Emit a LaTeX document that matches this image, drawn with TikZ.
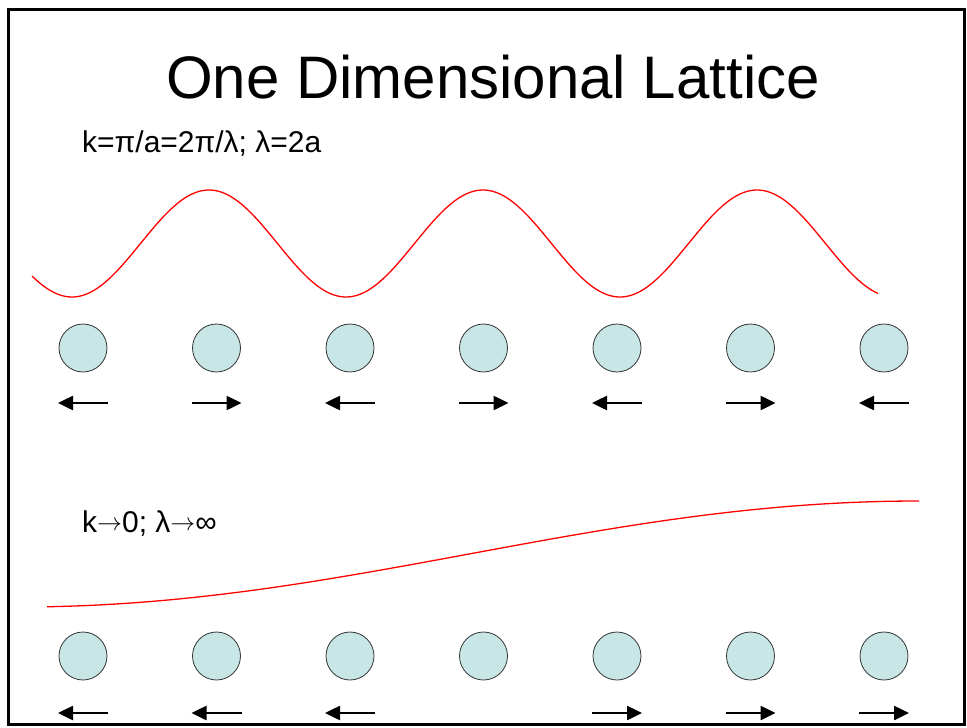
\documentclass[tikz,border=0pt]{standalone}
\usepackage{fontspec}
\setmainfont{Liberation Sans}
\usetikzlibrary{arrows.meta,calc}
\definecolor{atomfill}{RGB}{200,230,230}
\newcommand{\longto}{\raisebox{1.5pt}{$\rightarrow$}}
\tikzset{
	atom/.style={circle, draw=black!80, line width=0.8pt, fill=atomfill, minimum size=48pt, inner sep=0pt},
	disp/.style={line width=2.5pt, -{Triangle[length=15pt, width=14pt]}},
	wave/.style={red, line width=1.3pt, samples=300}
}
\begin{document}
\begin{tikzpicture}[x=1pt, y=-1pt]
		\useasboundingbox (0, 0) rectangle (967, 728);
		% Frame
		\draw[line width=2.5pt] (8.5, 9.5) rectangle (964.5, 724.5);
		
		% Title and labels
		\node[anchor=base, font=\fontsize{60}{72}\selectfont] (title) at (493, 98) {One Dimensional Lattice};
		\node[anchor=base west, inner sep=0pt, font=\fontsize{30}{36}\selectfont] (lblshort) at (82, 152) {k=π/a=2π/λ; λ=2a};
		\node[anchor=base west, inner sep=0pt, font=\fontsize{30}{36}\selectfont] (lbllong) at (82, 532) {k\longto0; λ\longto∞};
		
		% Short wave
		\draw[wave, domain=32:878] plot (\x, {243.5 + 53.5*cos((\x - 72)/274*360)});
		
		% Upper row of atoms
		\node[atom] (a1) at (83, 348) {};
		\node[atom] (a2) at (216.5, 348) {};
		\node[atom] (a3) at (350, 348) {};
		\node[atom] (a4) at (483.5, 348) {};
		\node[atom] (a5) at (617, 348) {};
		\node[atom] (a6) at (750.5, 348) {};
		\node[atom] (a7) at (884, 348) {};
		
		% Upper displacements
		\draw[disp] ($(a1) + (25, 55)$) -- ++(-50, 0);
		\draw[disp] ($(a2) + (-25, 55)$) -- ++(50, 0);
		\draw[disp] ($(a3) + (25, 55)$) -- ++(-50, 0);
		\draw[disp] ($(a4) + (-25, 55)$) -- ++(50, 0);
		\draw[disp] ($(a5) + (25, 55)$) -- ++(-50, 0);
		\draw[disp] ($(a6) + (-25, 55)$) -- ++(50, 0);
		\draw[disp] ($(a7) + (25, 55)$) -- ++(-50, 0);
		
		% Long wave
		\draw[wave, domain=47:919] plot (\x, {554 - 53*cos((919 - \x)/900*180)});
		
		% Lower row of atoms
		\node[atom] (b1) at (83, 656) {};
		\node[atom] (b2) at (216.5, 656) {};
		\node[atom] (b3) at (350, 656) {};
		\node[atom] (b4) at (483.5, 656) {};
		\node[atom] (b5) at (617, 656) {};
		\node[atom] (b6) at (750.5, 656) {};
		\node[atom] (b7) at (884, 656) {};
		
		% Lower displacements
		\draw[disp] ($(b1) + (25, 57)$) -- ++(-50, 0);
		\draw[disp] ($(b2) + (25, 57)$) -- ++(-50, 0);
		\draw[disp] ($(b3) + (25, 57)$) -- ++(-50, 0);
		\draw[disp] ($(b5) + (-25, 57)$) -- ++(50, 0);
		\draw[disp] ($(b6) + (-25, 57)$) -- ++(50, 0);
		\draw[disp] ($(b7) + (-25, 57)$) -- ++(50, 0);
	\end{tikzpicture}
\end{document}
